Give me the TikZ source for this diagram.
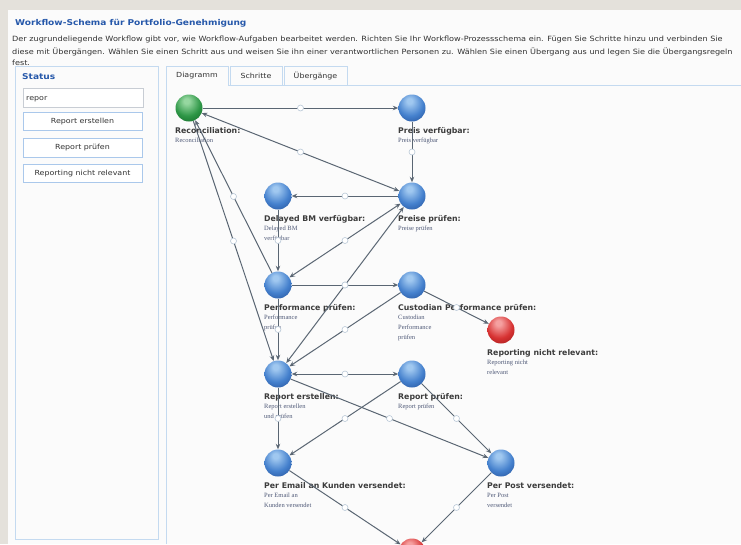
\documentclass[tikz,border=0pt]{standalone}
\usepackage{fontspec}
\setmainfont{DejaVu Sans}
\newfontfamily\uifont{DejaVu Sans}[FakeStretch=1.13]
\newfontfamily\subfont{Liberation Serif}
\usetikzlibrary{arrows.meta}
\definecolor{bggray}{RGB}{228,225,219}
\definecolor{paper}{RGB}{251,251,251}
\definecolor{titleblue}{RGB}{38,88,170}
\definecolor{panelborder}{RGB}{196,218,240}
\definecolor{btnborder}{RGB}{170,200,235}
\definecolor{inputborder}{RGB}{200,205,212}
\definecolor{edgecol}{RGB}{90,102,115}
\definecolor{handlecol}{RGB}{185,200,215}
\definecolor{lblcol}{RGB}{60,60,60}
\definecolor{subcol}{RGB}{80,90,120}
\definecolor{txtcol}{RGB}{50,50,50}
\definecolor{bhi}{RGB}{160,200,240}
\definecolor{bmid}{RGB}{68,128,205}
\definecolor{bdk}{RGB}{30,70,140}
\definecolor{ghi}{RGB}{150,215,160}
\definecolor{gmid}{RGB}{45,150,70}
\definecolor{gdk}{RGB}{15,95,35}
\definecolor{rhi}{RGB}{245,160,160}
\definecolor{rmid}{RGB}{215,50,50}
\definecolor{rdk}{RGB}{145,20,20}
\pgfdeclareradialshading{bsph}{\pgfqpoint{-5bp}{14bp}}{color(0bp)=(bhi); color(5bp)=(bhi); color(24bp)=(bmid); color(44bp)=(bdk); color(70bp)=(bdk)}
\pgfdeclareradialshading{gsph}{\pgfqpoint{-5bp}{14bp}}{color(0bp)=(ghi); color(5bp)=(ghi); color(24bp)=(gmid); color(44bp)=(gdk); color(70bp)=(gdk)}
\pgfdeclareradialshading{rsph}{\pgfqpoint{-5bp}{14bp}}{color(0bp)=(rhi); color(5bp)=(rhi); color(24bp)=(rmid); color(44bp)=(rdk); color(70bp)=(rdk)}
\begin{document}
\begin{tikzpicture}[x=1pt,y=-1pt,
  sphere/.style={circle,minimum size=27pt,inner sep=0pt},
  bluesphere/.style={sphere,shading=bsph},
  greensphere/.style={sphere,shading=gsph},
  redsphere/.style={sphere,shading=rsph},
  edge/.style={draw=edgecol,line width=1pt,-{Stealth[length=5.5pt,width=4.5pt]}},
  biedge/.style={draw=edgecol,line width=1pt,{Stealth[length=5.5pt,width=4.5pt]}-{Stealth[length=5.5pt,width=4.5pt]}},
  handle/.style={circle,draw=handlecol,fill=white,line width=0.6pt,minimum size=6pt,inner sep=0pt},
  lbl/.style={anchor=base west,inner sep=0pt,text=lblcol,font=\fontsize{7.8}{9}\selectfont\bfseries},
  sublbl/.style={anchor=north west,inner sep=0pt,text=subcol,align=left,font=\subfont\fontsize{6.5}{10}\selectfont},
  desc/.style={anchor=base west,inner sep=0pt,text=txtcol,font=\uifont\fontsize{7.2}{9}\selectfont},
  btn/.style={draw=btnborder,fill=white,line width=0.7pt,minimum width=119pt,minimum height=18.5pt,inner sep=0pt,text=txtcol,font=\uifont\fontsize{7}{9}\selectfont},
  tabtxt/.style={inner sep=0pt,text=txtcol,font=\uifont\fontsize{7}{9}\selectfont},
  head/.style={anchor=base west,inner sep=0pt,text=titleblue,font=\uifont\fontsize{8}{9}\selectfont\bfseries}
]
\useasboundingbox (0,0) rectangle (741,544);
\clip (0,0) rectangle (741,544);
\fill[bggray] (0,0) rectangle (741,544);
\fill[paper] (8,9.5) rectangle (741,544);

% header
\node[head] (title) at (15,25.5) {Workflow-Schema für Portfolio-Genehmigung};
\node[desc] (d1) at (12,41.8) {Der zugrundeliegende Workflow gibt vor, wie Workflow-Aufgaben bearbeitet werden. Richten Sie Ihr Workflow-Prozessschema ein. Fügen Sie Schritte hinzu und verbinden Sie};
\node[desc] (d2) at (12,54.6) {diese mit Übergängen. Wählen Sie einen Schritt aus und weisen Sie ihn einer verantwortlichen Personen zu. Wählen Sie einen Übergang aus und legen Sie die Übergangsregeln};
\node[desc] (d3) at (12,65.6) {fest.};

% left panel
\draw[panelborder,line width=0.8pt] (15,66.5) rectangle (158,539);
\node[head] (status) at (22,79.5) {Status};
\draw[inputborder,fill=white,line width=0.7pt] (23,88) rectangle (143,107);
\node[anchor=base west,inner sep=0pt,text=txtcol,font=\uifont\fontsize{7}{9}\selectfont] (search) at (26,100.3) {repor};
\node[btn] (b1) at (82.5,121.5) {Report erstellen};
\node[btn] (b2) at (82.5,148) {Report prüfen};
\node[btn] (b3) at (82.5,173.5) {Reporting nicht relevant};

% right panel with tabs
\draw[panelborder,line width=0.8pt] (166,544) -- (166,66) -- (228,66) -- (228,85) -- (741,85);
\draw[panelborder,line width=0.8pt] (230,85) -- (230,66) -- (282,66) -- (282,85);
\draw[panelborder,line width=0.8pt] (284,85) -- (284,66) -- (347,66) -- (347,85);
\node[tabtxt] (t1) at (197,76) {Diagramm};
\node[tabtxt] (t2) at (256,76) {Schritte};
\node[tabtxt] (t3) at (315.5,76) {Übergänge};

% steps
\node[greensphere] (recon) at (189,108) {};
\node[bluesphere] (preisv) at (412,108) {};
\node[bluesphere] (delayed) at (278,196) {};
\node[bluesphere] (preise) at (412,196) {};
\node[bluesphere] (perf) at (278,285) {};
\node[bluesphere] (cust) at (412,285) {};
\node[redsphere] (notrel) at (501,330) {};
\node[bluesphere] (repe) at (278,374) {};
\node[bluesphere] (repp) at (412,374) {};
\node[bluesphere] (email) at (278,463) {};
\node[bluesphere] (post) at (501,463) {};
\node[redsphere] (final) at (412,552) {};

% labels
\node[lbl] (recon-l) at (175,133) {Reconciliation:};
\node[sublbl] (recon-s) at (175,138) {Reconciliation};
\node[lbl] (preisv-l) at (398,133) {Preis verfügbar:};
\node[sublbl] (preisv-s) at (398,138) {Preis verfügbar};
\node[lbl] (delayed-l) at (264,221) {Delayed BM verfügbar:};
\node[sublbl] (delayed-s) at (264,226) {Delayed BM\\verfügbar};
\node[lbl] (preise-l) at (398,221) {Preise prüfen:};
\node[sublbl] (preise-s) at (398,226) {Preise prüfen};
\node[lbl] (perf-l) at (264,310) {Performance prüfen:};
\node[sublbl] (perf-s) at (264,315) {Performance\\prüfen};
\node[lbl] (cust-l) at (398,310) {Custodian Performance prüfen:};
\node[sublbl] (cust-s) at (398,315) {Custodian\\Performance\\prüfen};
\node[lbl] (notrel-l) at (487,355) {Reporting nicht relevant:};
\node[sublbl] (notrel-s) at (487,360) {Reporting nicht\\relevant};
\node[lbl] (repe-l) at (264,399) {Report erstellen:};
\node[sublbl] (repe-s) at (264,404) {Report erstellen\\und prüfen};
\node[lbl] (repp-l) at (398,399) {Report prüfen:};
\node[sublbl] (repp-s) at (398,404) {Report prüfen};
\node[lbl] (email-l) at (264,488) {Per Email an Kunden versendet:};
\node[sublbl] (email-s) at (264,493) {Per Email an\\Kunden versendet};
\node[lbl] (post-l) at (487,488) {Per Post versendet:};
\node[sublbl] (post-s) at (487,493) {Per Post\\versendet};

% transitions
\draw[edge] (recon) -- node[handle] (h1) {} (preisv);
\draw[edge] (preisv) -- node[handle] (h2) {} (preise);
\draw[biedge] (recon) -- node[handle] (h3) {} (preise);
\draw[edge] (preise) -- node[handle] (h4) {} (delayed);
\draw[edge] (delayed) -- node[handle] (h5) {} (perf);
\draw[biedge] (perf) -- node[handle] (h6) {} (preise);
\draw[edge] (perf) -- node[handle] (h7) {} (cust);
\draw[edge] (perf) -- node[handle] (h8) {} (repe);
\draw[biedge] (repe) -- node[handle] (h9) {} (preise);
\draw[edge] (cust) -- node[handle] (h10) {} (repe);
\draw[edge] (cust) -- node[handle] (h11) {} (notrel);
\draw[edge] (perf) -- node[handle] (h12) {} (recon);
\draw[edge] (recon) -- node[handle] (h13) {} (repe);
\draw[biedge] (repe) -- node[handle] (h14) {} (repp);
\draw[edge] (repe) -- node[handle] (h15) {} (email);
\draw[edge] (repp) -- node[handle] (h16) {} (email);
\draw[edge] (repe) -- node[handle] (h17) {} (post);
\draw[edge] (repp) -- node[handle] (h18) {} (post);
\draw[edge] (email) -- node[handle] (h19) {} (final);
\draw[edge] (post) -- node[handle] (h20) {} (final);
\end{tikzpicture}
\end{document}
